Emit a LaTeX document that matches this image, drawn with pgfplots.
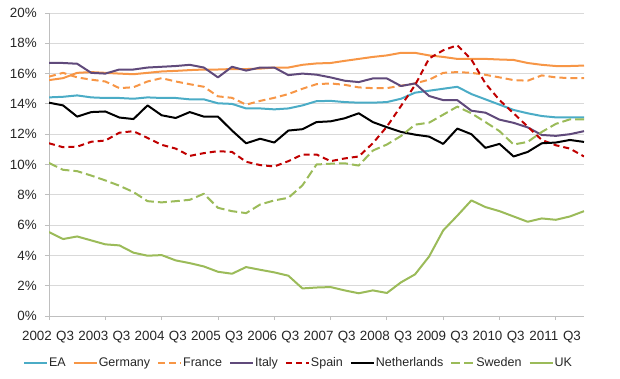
\documentclass[border=0pt]{standalone}
\usepackage{pgfplots}
\usepackage{pgfplotstable}
\pgfplotsset{compat=1.18}
\usepackage{fontspec}
\setmainfont{Liberation Sans}
\definecolor{ea}{HTML}{4BACC6}
\definecolor{ger}{HTML}{F79646}
\definecolor{ita}{HTML}{604A7B}
\definecolor{spa}{HTML}{C00000}
\definecolor{swe}{HTML}{9BBB59}
\definecolor{gridc}{HTML}{D9D9D9}
\definecolor{axc}{HTML}{BFBFBF}

\pgfplotstableread{
i EA DE FR IT ES NL SE UK
0 14.43 15.57 15.80 16.70 11.40 14.08 10.10 5.54
1 14.47 15.70 16.05 16.70 11.14 13.90 9.65 5.08
2 14.56 16.05 15.75 16.65 11.18 13.16 9.56 5.25
3 14.43 16.10 15.60 16.05 11.50 13.46 9.27 4.99
4 14.39 16.05 15.48 16.00 11.58 13.50 8.95 4.73
5 14.39 16.00 15.04 16.27 12.10 13.10 8.60 4.66
6 14.34 15.96 15.10 16.27 12.20 13.00 8.18 4.18
7 14.43 16.05 15.48 16.40 11.75 13.90 7.58 3.98
8 14.39 16.14 15.70 16.45 11.30 13.25 7.50 4.02
9 14.39 16.18 15.48 16.50 11.05 13.07 7.58 3.67
10 14.30 16.23 15.30 16.58 10.57 13.46 7.67 3.49
11 14.30 16.27 15.13 16.40 10.75 13.16 8.07 3.27
12 14.04 16.27 14.50 15.75 10.88 13.16 7.14 2.92
13 14.00 16.30 14.40 16.45 10.83 12.24 6.92 2.79
14 13.70 16.30 13.95 16.20 10.18 11.40 6.79 3.23
15 13.70 16.33 14.20 16.40 9.96 11.70 7.36 3.05
16 13.64 16.40 14.40 16.40 9.87 11.45 7.63 2.88
17 13.70 16.40 14.65 15.90 10.22 12.24 7.80 2.66
18 13.90 16.58 15.00 16.00 10.66 12.33 8.62 1.82
19 14.18 16.67 15.30 15.93 10.66 12.80 10.00 1.88
20 14.20 16.70 15.35 15.75 10.22 12.85 10.05 1.91
21 14.12 16.84 15.26 15.53 10.40 13.05 10.08 1.69
22 14.08 16.97 15.09 15.44 10.53 13.38 9.93 1.50
23 14.08 17.10 15.04 15.68 11.40 12.80 10.92 1.69
24 14.12 17.20 15.04 15.68 12.50 12.46 11.32 1.52
25 14.34 17.37 15.20 15.18 13.86 12.15 11.88 2.22
26 14.74 17.37 15.35 15.35 15.24 11.97 12.63 2.75
27 14.87 17.20 15.60 14.52 17.00 11.84 12.76 3.93
28 15.00 17.10 16.05 14.25 17.54 11.36 13.29 5.65
29 15.13 16.97 16.10 14.25 17.87 12.37 13.82 6.62
30 14.65 16.97 16.05 13.55 16.93 12.00 13.38 7.63
31 14.30 16.97 15.92 13.42 15.35 11.10 12.80 7.19
32 13.95 16.93 15.75 12.96 14.25 11.36 12.20 6.92
33 13.60 16.90 15.57 12.75 13.38 10.53 11.32 6.57
34 13.38 16.70 15.53 12.45 12.50 10.83 11.49 6.22
35 13.20 16.58 15.88 11.95 11.62 11.40 12.15 6.44
36 13.11 16.50 15.75 11.89 11.27 11.45 12.68 6.35
37 13.11 16.50 15.70 12.00 11.05 11.62 12.98 6.57
38 13.11 16.53 15.70 12.20 10.53 11.49 12.98 6.92
}\data

\begin{document}
\begin{tikzpicture}[x=1pt,y=1pt]
\path[use as bounding box] (0,0) rectangle (620,378);
\begin{axis}[
  at={(49pt,62pt)}, anchor=south west,
  scale only axis, width=535pt, height=303pt,
  xmin=0, xmax=38, ymin=0, ymax=20,
  axis x line=bottom, axis y line=left,
  axis line style={-, draw=axc, line width=0.8pt},
  ytick={0,2,...,20},
  yticklabels={0\%,2\%,4\%,6\%,8\%,10\%,12\%,14\%,16\%,18\%,20\%},
  ymajorgrids, grid style={gridc, line width=0.8pt},
  xtick={0,2,...,38},
  xticklabels={2002,Q3,2003,Q3,2004,Q3,2005,Q3,2006,Q3,2007,Q3,2008,Q3,2009,Q3,2010,Q3,2011,Q3},
  major tick length=0pt,
  minor xtick={0,4,...,36}, minor ytick={0,2,...,20},
  minor tick length=4pt, tick align=outside,
  minor tick style={axc, line width=0.8pt},
  tick label style={font=\fontsize{13.4}{15}\selectfont, inner sep=0pt, text=black!85},
  yticklabel style={anchor=east, xshift=-12pt},
  xticklabel style={anchor=north, yshift=-15pt, xshift=-12pt},
  legend columns=8,
  legend style={at={(0.4654,-0.1551)}, anchor=center, draw=none, fill=none,
    font=\fontsize{12.5}{14}\selectfont, text=black!85,
    inner sep=0pt, nodes={inner sep=1pt},
    /tikz/every even column/.append style={column sep=6pt}},
  legend cell align=left,
  legend image code/.code={\draw[#1] (0pt,0pt) -- (23pt,0pt);},
  every axis plot/.append style={line width=2pt, line join=round},
]
\addplot[ea] table[x=i,y=EA] {\data};
\addlegendentry{EA}
\addplot[ger] table[x=i,y=DE] {\data};
\addlegendentry{Germany}
\addplot[ger, dash pattern=on 7pt off 4pt] table[x=i,y=FR] {\data};
\addlegendentry{France}
\addplot[ita] table[x=i,y=IT] {\data};
\addlegendentry{Italy}
\addplot[spa, dash pattern=on 6pt off 4pt] table[x=i,y=ES] {\data};
\addlegendentry{Spain}
\addplot[black] table[x=i,y=NL] {\data};
\addlegendentry{Netherlands}
\addplot[swe, dash pattern=on 9pt off 4pt] table[x=i,y=SE] {\data};
\addlegendentry{Sweden}
\addplot[swe] table[x=i,y=UK] {\data};
\addlegendentry{UK}
\end{axis}
\end{tikzpicture}
\end{document}
